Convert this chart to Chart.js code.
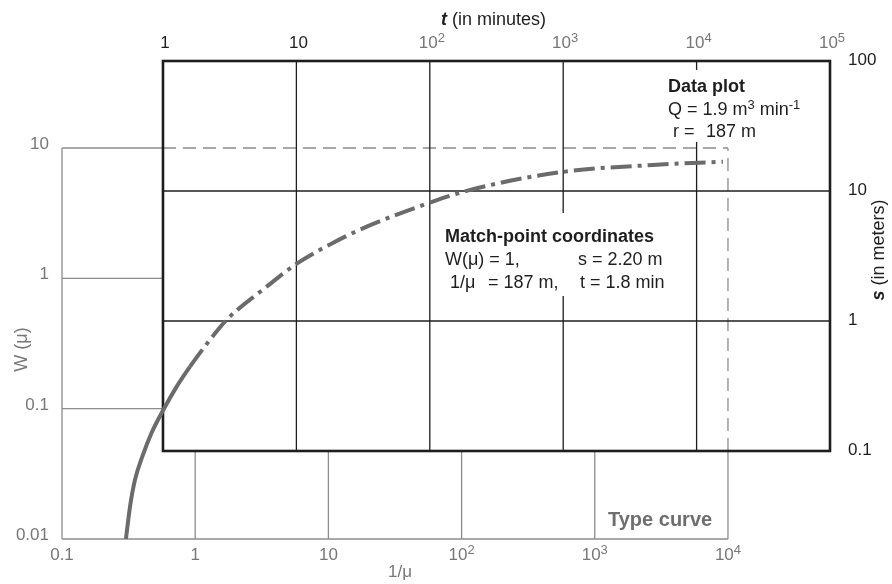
<!DOCTYPE html>
<html>
<head>
<meta charset="utf-8">
<script src="https://cdn.jsdelivr.net/npm/chart.js@4.4.1/dist/chart.umd.min.js"></script>
<style>
  html, body { margin: 0; padding: 0; background: #fff; }
</style>
</head>
<body>
<canvas id="chart" width="892" height="584"></canvas>
<script>
// Theis type curve, W(u) against 1/u
const invU = [0.302, 0.324, 0.353, 0.402, 0.470, 0.576, 0.726, 0.914, 1.29, 1.72, 3.44, 5.61, 10.8, 19.4, 56.2, 116, 597, 2735, 9170];
const wU   = [0.0100, 0.0177, 0.0284, 0.0433, 0.0651, 0.0977, 0.1475, 0.210, 0.337, 0.480, 0.863, 1.27, 1.87, 2.49, 3.77, 4.77, 6.59, 7.41, 7.86];
const SOLID_UNTIL = 7; // solid up to this point, dash-dot after

// type curve axes (bottom / left)
const invUTicks  = [0.1, 1, 10, 100, 1000, 10000];
const invULabels = ['0.1', '1', '10', '10^2', '10^3', '10^4'];
const wTicks  = [0.01, 0.1, 1, 10];
const wLabels = ['0.01', '0.1', '1', '10'];

// data plot axes (top / right)
const tTicks  = [1, 10, 100, 1000, 10000, 100000];
const tLabels = ['1', '10', '10^2', '10^3', '10^4', '10^5'];
const sTicks  = [0.1, 1, 10, 100];
const sLabels = ['0.1', '1', '10', '100'];

// dashed match lines on the type curve sheet
const matchW = 10;
const matchInvU = 10000;

const FONT = "'Liberation Sans', Arial, Helvetica, sans-serif";
const GREY = '#777';
const GREY_LINE = '#8c8c8c';
const DARK = '#1e1e1e';

function labelRuns(label, size, color) {
  const [base, sup] = label.split('^');
  const runs = [{ text: base, font: `${size}px ${FONT}`, color }];
  if (sup) runs.push({ text: sup, font: `13px ${FONT}`, rise: 6, color });
  return runs;
}

function runsWidth(ctx, runs) {
  return runs.reduce((w, r) => { ctx.font = r.font; return w + ctx.measureText(r.text).width; }, 0);
}

function drawRuns(ctx, runs, x, y, align) {
  let cx = x;
  const w = runsWidth(ctx, runs);
  if (align === 'center') cx = x - w / 2;
  if (align === 'right') cx = x - w;
  ctx.textAlign = 'left';
  runs.forEach(r => {
    ctx.font = r.font;
    ctx.fillStyle = r.color || DARK;
    ctx.fillText(r.text, cx, y - (r.rise || 0));
    cx += ctx.measureText(r.text).width;
  });
}

function line(ctx, x1, y1, x2, y2, dash) {
  ctx.setLineDash(dash || []);
  ctx.beginPath();
  ctx.moveTo(x1, y1);
  ctx.lineTo(x2, y2);
  ctx.stroke();
}

const sheets = {
  id: 'sheets',
  beforeDatasetsDraw(chart) {
    const { ctx, scales: { x, y, t, s } } = chart;
    const L = t.getPixelForValue(tTicks[0]);
    const R = t.getPixelForValue(tTicks[tTicks.length - 1]);
    const T = s.getPixelForValue(sTicks[sTicks.length - 1]);
    const B = s.getPixelForValue(sTicks[0]);
    const x0 = x.getPixelForValue(invUTicks[0]);
    const y0 = y.getPixelForValue(wTicks[0]);
    const yTop = y.getPixelForValue(wTicks[wTicks.length - 1]);
    const xMatch = x.getPixelForValue(matchInvU);
    const yMatch = y.getPixelForValue(matchW);

    ctx.save();
    ctx.textBaseline = 'alphabetic';

    // type curve sheet, only where it shows outside the data plot
    ctx.strokeStyle = GREY_LINE;
    ctx.lineWidth = 1.3;
    invUTicks.forEach(v => {
      const px = x.getPixelForValue(v);
      if (v === invUTicks[0]) line(ctx, px, y0, px, yTop);
      else line(ctx, px, y0, px, B);
      if (v === matchInvU) line(ctx, px, B, px, yMatch, [13, 7]);
    });
    wTicks.forEach(v => {
      const py = y.getPixelForValue(v);
      if (v === wTicks[0]) line(ctx, x0, py, xMatch, py);
      else line(ctx, x0, py, L, py);
      if (v === matchW) line(ctx, L, py, xMatch, py, [13, 7]);
    });

    // data plot sheet
    ctx.strokeStyle = DARK;
    ctx.lineWidth = 1.3;
    tTicks.slice(1, -1).forEach(v => {
      const px = t.getPixelForValue(v);
      line(ctx, px, T, px, B);
    });
    sTicks.slice(1, -1).forEach(v => {
      const py = s.getPixelForValue(v);
      line(ctx, L, py, R, py);
    });
    ctx.setLineDash([]);
    ctx.lineWidth = 2.6;
    ctx.strokeRect(L, T, R - L, B - T);

    // tick labels
    invUTicks.forEach((v, i) => {
      drawRuns(ctx, labelRuns(invULabels[i], 17, GREY), x.getPixelForValue(v), 560, 'center');
    });
    wTicks.forEach((v, i) => {
      drawRuns(ctx, labelRuns(wLabels[i], 17, GREY), x0 - 13, y.getPixelForValue(v) + 1, 'right');
    });
    tTicks.forEach((v, i) => {
      const col = tLabels[i].includes('^') ? GREY : DARK;
      drawRuns(ctx, labelRuns(tLabels[i], 17, col), t.getPixelForValue(v) + 2, 48, 'center');
    });
    sTicks.forEach((v, i) => {
      drawRuns(ctx, labelRuns(sLabels[i], 17, DARK), R + 18, s.getPixelForValue(v) + 4, 'left');
    });

    // axis titles
    const reg = `18px ${FONT}`;
    const boldIt = `italic bold 18px ${FONT}`;
    drawRuns(ctx, [{ text: 't', font: boldIt }, { text: ' (in minutes)', font: reg }], (L + R) / 2 - 3, 25, 'center');
    drawRuns(ctx, [{ text: '1/\u03bc', font: `17px ${FONT}`, color: GREY }], (x0 + xMatch) / 2 + 5, 577, 'center');

    ctx.save();
    ctx.translate(27, (yTop + y0) / 2 + 6);
    ctx.rotate(-Math.PI / 2);
    drawRuns(ctx, [{ text: 'W (\u03bc)', font: reg, color: GREY }], 0, 0, 'center');
    ctx.restore();

    ctx.save();
    ctx.translate(884, (T + B) / 2 - 6);
    ctx.rotate(-Math.PI / 2);
    drawRuns(ctx, [{ text: 's', font: boldIt }, { text: ' (in meters)', font: reg }], 0, 0, 'center');
    ctx.restore();

    // annotation boxes hide the grid behind the text
    ctx.fillStyle = '#fff';
    ctx.fillRect(664, 70, 150, 72);
    ctx.fillRect(440, 213, 232, 83);

    const bold = `bold 18px ${FONT}`;
    const sup = `13px ${FONT}`;
    drawRuns(ctx, [{ text: 'Data plot', font: bold }], 668, 92);
    drawRuns(ctx, [
      { text: 'Q = 1.9 m', font: reg },
      { text: '3', font: sup, rise: 6 },
      { text: ' min', font: reg },
      { text: '-1', font: sup, rise: 6 }
    ], 668, 115);
    drawRuns(ctx, [{ text: 'r =', font: reg }], 673, 137);
    drawRuns(ctx, [{ text: '187 m', font: reg }], 706, 137);

    drawRuns(ctx, [{ text: 'Match-point coordinates', font: bold }], 445, 242);
    drawRuns(ctx, [{ text: 'W(\u03bc) = 1,', font: reg }], 445, 265);
    drawRuns(ctx, [{ text: 's = 2.20 m', font: reg }], 578, 265);
    drawRuns(ctx, [{ text: '1/\u03bc', font: reg }], 450, 288);
    drawRuns(ctx, [{ text: '= 187 m,', font: reg }], 488, 288);
    drawRuns(ctx, [{ text: 't = 1.8 min', font: reg }], 580, 288);

    drawRuns(ctx, [{ text: 'Type curve', font: `bold 20px ${FONT}`, color: '#6e6e6e' }], 608, 526);

    ctx.restore();
  }
};

new Chart(document.getElementById('chart'), {
  type: 'line',
  data: {
    datasets: [{
      data: invU.map((v, i) => ({ x: v, y: wU[i] })),
      xAxisID: 'x',
      yAxisID: 'y',
      borderColor: '#6b6b6b',
      borderWidth: 4,
      borderCapStyle: 'butt',
      pointRadius: 0,
      cubicInterpolationMode: 'monotone',
      segment: {
        borderDash: c => c.p0DataIndex >= SOLID_UNTIL ? [21, 6, 4, 6] : undefined
      }
    }]
  },
  options: {
    responsive: false,
    animation: false,
    devicePixelRatio: 1,
    layout: { padding: { left: 62, top: 61, right: 62, bottom: 45 } },
    scales: {
      x: { type: 'logarithmic', display: false, min: 0.1, max: Math.pow(10, 4.766) },
      y: { type: 'logarithmic', display: false, min: 0.01, max: Math.pow(10, 1.6676) },
      t: { type: 'logarithmic', axis: 'x', position: 'top', display: false, min: Math.pow(10, -0.757), max: 100000 },
      s: { type: 'logarithmic', axis: 'y', position: 'right', display: false, min: Math.pow(10, -1.677), max: 100 }
    },
    plugins: {
      legend: { display: false },
      tooltip: { enabled: false }
    }
  },
  plugins: [sheets]
});
</script>
</body>
</html>
